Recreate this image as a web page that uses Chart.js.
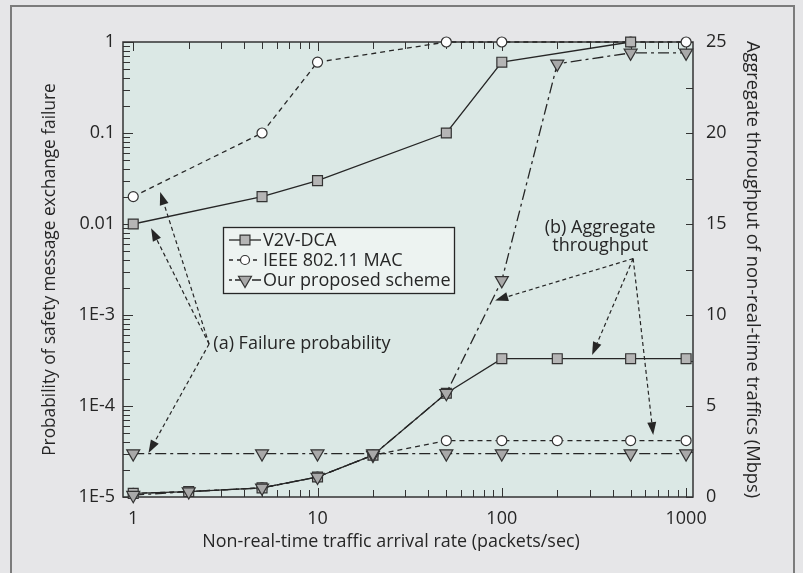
<!DOCTYPE html>
<html>
<head>
<meta charset="utf-8">
<script src="https://cdn.jsdelivr.net/npm/chart.js@4.4.1/dist/chart.umd.min.js"></script>
<style>
html, body { margin: 0; padding: 0; background: #e6e6e8; overflow: hidden; }
#wrap { position: relative; width: 803px; height: 573px; }
#frame { position: absolute; left: 10px; top: 5px; width: 785px; height: 620px; border: 2px solid #7c7c7c; box-sizing: border-box; }
canvas { position: absolute; left: 0; top: 0; }
</style>
</head>
<body>
<div id="wrap"><div id="frame"></div><canvas id="chart" width="803" height="573"></canvas></div>
<script>
// Packet arrival rates (x axis, log)
const rates = [1, 2, 5, 10, 20, 50, 100, 200, 500, 1000];

// (a) Failure probability, left log axis
const v2vFailRates = [1, 5, 10, 50, 100, 500];
const v2vFail = [0.01, 0.02, 0.03, 0.1, 0.6, 1];
const ieeeFailRates = [1, 5, 10, 50, 100, 500, 1000];
const ieeeFail = [0.02, 0.1, 0.6, 1, 1, 1, 1];
const propFailRates = [1, 5, 10, 20, 50, 100, 500, 1000];
const propFail = [3e-5, 3e-5, 3e-5, 3e-5, 3e-5, 3e-5, 3e-5, 3e-5];

// (b) Aggregate throughput (Mbps), right axis
const v2vThr = [0.2, 0.3, 0.5, 1.1, 2.3, 5.7, 7.6, 7.6, 7.6, 7.6];
const ieeeThr = [0.2, 0.3, 0.5, 1.1, 2.3, 3.1, 3.1, 3.1, 3.1, 3.1];
const propThr = [0.1, 0.3, 0.5, 1.1, 2.3, 5.7, 11.9, 23.8, 24.4, 24.4];

// tick labels
const xTicks = [1, 10, 100, 1000];
const leftTicks = [1e-5, 1e-4, 1e-3, 0.01, 0.1, 1];
const leftTickLabels = ['1E-5', '1E-4', '1E-3', '0.01', '0.1', '1'];
const rightTicks = [0, 5, 10, 15, 20, 25];

// annotation anchors in data units
const noteA = { x: 2.72, y: 4.8e-4, text: '(a) Failure probability' };
const noteAFrom = [2.58, 4.8e-4];
const noteATips = [[1.40, 0.0225], [1.25, 0.009], [1.21, 3.05e-5]];
const noteB = { x: 342, lines: ['(b) Aggregate', 'throughput'], y: [14.8, 13.8] };
const noteBFrom = [516, 13.1];
const noteBTips = [[92, 10.8], [309, 7.8], [663, 3.4]];

const xTitle = 'Non-real-time traffic arrival rate (packets/sec)';

const FONT = 'Open Sans';
const INK = '#262626';

const pts = (xs, ys) => xs.map((x, i) => ({ x: x, y: ys[i] }));

const styles = {
    v2v: { dash: [], pointStyle: 'rect', radius: 7, rotation: 0, fill: '#b5b5b5', label: 'V2V-DCA' },
    ieee: { dash: [5, 4], pointStyle: 'circle', radius: 5, rotation: 0, fill: '#ffffff', label: 'IEEE 802.11 MAC' },
    prop: { dash: [11, 4, 3, 4], pointStyle: 'triangle', radius: 7.5, rotation: 180, fill: '#a9a9a9', label: 'Our proposed scheme' }
};

function ds(key, data, axis, order) {
    const s = styles[key];
    return {
        label: s.label,
        data: data,
        yAxisID: axis,
        order: order,
        borderColor: INK,
        borderWidth: 1.3,
        borderDash: s.dash,
        pointStyle: s.pointStyle,
        pointRadius: s.radius,
        pointRotation: s.rotation,
        pointBackgroundColor: s.fill,
        pointBorderColor: '#333',
        pointBorderWidth: 1.2,
        tension: 0,
        clip: false
    };
}

// background, frame, inward ticks
const framePlugin = {
    id: 'frame',
    beforeDraw(chart) {
        const { ctx, chartArea: a } = chart;
        ctx.save();
        ctx.fillStyle = '#dbe8e5';
        ctx.fillRect(a.left, a.top, a.right - a.left, a.bottom - a.top);
        ctx.restore();
    },
    beforeDatasetsDraw(chart) {
        const { ctx, chartArea: a, scales } = chart;
        ctx.save();
        ctx.strokeStyle = '#333';
        ctx.lineWidth = 1;
        ctx.beginPath();
        // x ticks, bottom and top
        for (let d = 1; d <= 1000; d *= 10) {
            for (let m = 1; m <= 9; m++) {
                const v = d * m;
                if (v > 1000) break;
                const px = Math.round(scales.x.getPixelForValue(v)) + 0.5;
                const len = m === 1 ? 9 : 7;
                ctx.moveTo(px, a.bottom); ctx.lineTo(px, a.bottom - len);
                ctx.moveTo(px, a.top); ctx.lineTo(px, a.top + len);
            }
        }
        // left log ticks
        for (let d = 1e-5; d <= 1; d *= 10) {
            for (let m = 1; m <= 9; m++) {
                const v = d * m;
                if (v > 1.0001) break;
                const py = Math.round(scales.y.getPixelForValue(v)) + 0.5;
                const len = m === 1 ? 10 : 7;
                ctx.moveTo(a.left, py); ctx.lineTo(a.left + len, py);
            }
        }
        // right linear ticks
        for (let v = 0; v <= 25; v += 2.5) {
            const py = Math.round(scales.y2.getPixelForValue(v)) + 0.5;
            ctx.moveTo(a.right, py); ctx.lineTo(a.right - 7, py);
        }
        ctx.stroke();
        ctx.lineWidth = 1.5;
        ctx.strokeRect(a.left, a.top, a.right - a.left, a.bottom - a.top);
        ctx.restore();
    }
};

function arrow(ctx, x0, y0, x1, y1) {
    const ang = Math.atan2(y1 - y0, x1 - x0);
    const head = 13, half = 4.5;
    const bx = x1 - head * Math.cos(ang), by = y1 - head * Math.sin(ang);
    ctx.setLineDash([4, 3]);
    ctx.beginPath();
    ctx.moveTo(x0, y0); ctx.lineTo(bx, by);
    ctx.stroke();
    ctx.setLineDash([]);
    ctx.beginPath();
    ctx.moveTo(x1, y1);
    ctx.lineTo(bx + half * Math.sin(ang), by - half * Math.cos(ang));
    ctx.lineTo(bx - half * Math.sin(ang), by + half * Math.cos(ang));
    ctx.closePath();
    ctx.fill();
}

// legend box, x title and the two annotations
const notesPlugin = {
    id: 'notes',
    afterDatasetsDraw(chart) {
        const { ctx, scales, chartArea: a } = chart;
        const X = v => scales.x.getPixelForValue(v);
        const YL = v => scales.y.getPixelForValue(v);
        const YR = v => scales.y2.getPixelForValue(v);
        ctx.save();
        ctx.strokeStyle = INK;
        ctx.fillStyle = INK;
        ctx.lineWidth = 1.2;
        noteATips.forEach(t => arrow(ctx, X(noteAFrom[0]), YL(noteAFrom[1]), X(t[0]), YL(t[1])));
        noteBTips.forEach(t => arrow(ctx, X(noteBFrom[0]), YR(noteBFrom[1]), X(t[0]), YR(t[1])));
        ctx.font = '18px "' + FONT + '"';
        ctx.textBaseline = 'middle';
        ctx.textAlign = 'left';
        ctx.fillText(noteA.text, X(noteA.x), YL(noteA.y));
        ctx.textAlign = 'center';
        noteB.lines.forEach((l, i) => ctx.fillText(l, X(noteB.x), YR(noteB.y[i])));

        // x axis title, sits a little left of the plot centre
        ctx.font = '17.9px "' + FONT + '"';
        ctx.fillText(xTitle, (a.left + a.right) / 2 - 17, a.bottom + 45);

        // legend
        ctx.font = '18px "' + FONT + '"';
        const bx = 223, by = 227, bw = 231, bh = 66;
        ctx.fillStyle = '#edf3f1';
        ctx.fillRect(bx, by, bw, bh);
        ctx.lineWidth = 1.3;
        ctx.strokeRect(bx + 0.5, by + 0.5, bw, bh);
        ['v2v', 'ieee', 'prop'].forEach((k, i) => {
            const s = styles[k];
            const y = by + 13 + i * 20;
            ctx.strokeStyle = INK;
            ctx.lineWidth = 1.3;
            ctx.setLineDash(k === 'ieee' ? [4, 4] : (k === 'prop' ? [3, 3, 11, 0] : []));
            ctx.beginPath();
            ctx.moveTo(bx + 6, y); ctx.lineTo(bx + 38, y);
            ctx.stroke();
            ctx.setLineDash([]);
            ctx.fillStyle = s.fill;
            ctx.strokeStyle = '#333';
            ctx.lineWidth = 1.2;
            const r = k === 'ieee' ? 4.5 : s.radius;
            Chart.helpers.drawPoint(ctx, { pointStyle: s.pointStyle, rotation: s.rotation, radius: r, borderWidth: 1.2 }, bx + 22, y);
            ctx.fillStyle = INK;
            ctx.textAlign = 'left';
            ctx.fillText(s.label, bx + 40, y + 1);
        });
        ctx.restore();
    }
};

const tickFont = { family: FONT, size: 18 };

new Chart(document.getElementById('chart'), {
    type: 'line',
    data: {
        datasets: [
            ds('v2v', pts(v2vFailRates, v2vFail), 'y', 1),
            ds('ieee', pts(ieeeFailRates, ieeeFail), 'y', 2),
            ds('prop', pts(propFailRates, propFail), 'y', 0),
            ds('v2v', pts(rates, v2vThr), 'y2', 1),
            ds('ieee', pts(rates, ieeeThr), 'y2', 2),
            ds('prop', pts(rates, propThr), 'y2', 0)
        ]
    },
    options: {
        responsive: false,
        animation: false,
        layout: { padding: { top: 42, left: 0, right: 0, bottom: 0 } },
        plugins: { legend: { display: false }, tooltip: { enabled: false } },
        scales: {
            x: {
                type: 'logarithmic',
                position: 'bottom',
                min: 0.88,
                max: 1090,
                afterBuildTicks: s => { s.ticks = xTicks.map(v => ({ value: v })); },
                afterFit: s => { s.height = 76; },
                ticks: { font: tickFont, color: INK, padding: 11, maxRotation: 0, callback: v => String(v) },
                grid: { display: false, drawTicks: false },
                border: { display: false },
                title: { display: false }
            },
            y: {
                type: 'logarithmic',
                position: 'left',
                min: 1e-5,
                max: 1,
                afterBuildTicks: s => { s.ticks = leftTicks.map(v => ({ value: v })); },
                afterFit: s => { s.width = 123; },
                ticks: { font: tickFont, color: INK, padding: 8, callback: (v, i) => leftTickLabels[i] },
                grid: { display: false, drawTicks: false },
                border: { display: false },
                title: { display: true, text: 'Probability of safety message exchange failure', font: { family: FONT, size: 17.3 }, color: INK, padding: { top: 40 } }
            },
            y2: {
                type: 'linear',
                position: 'right',
                min: 0,
                max: 25,
                afterBuildTicks: s => { s.ticks = rightTicks.map(v => ({ value: v })); },
                afterFit: s => { s.width = 110; },
                ticks: { font: tickFont, color: INK, padding: 13, callback: v => String(v) },
                grid: { display: false, drawTicks: false },
                border: { display: false },
                title: { display: true, text: 'Aggregate throughput of non-real-time traffics (Mbps)', font: { family: FONT, size: 18.3 }, color: INK, padding: { top: 40 } }
            }
        }
    },
    plugins: [framePlugin, notesPlugin]
});
</script>
</body>
</html>
